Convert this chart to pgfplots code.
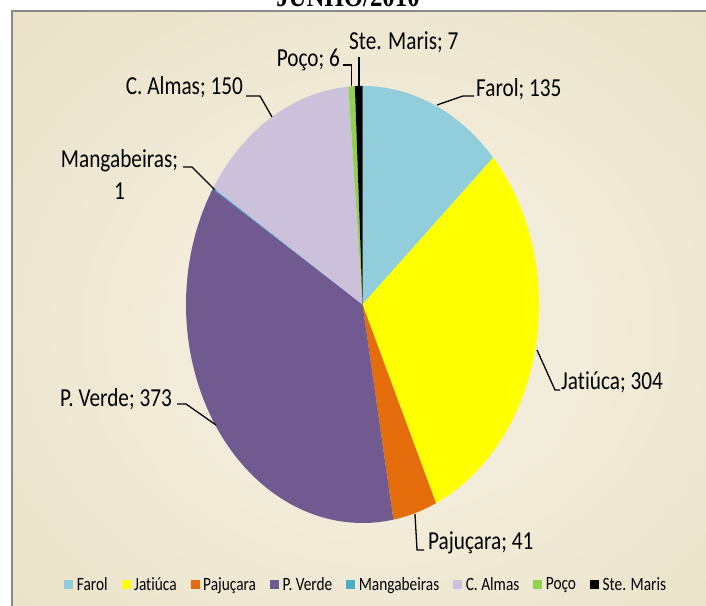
\documentclass[border=0pt]{standalone}
\usepackage{pgfplots}
\pgfplotsset{compat=1.18}
\usepackage{fontspec}
\setmainfont{Carlito}[FakeStretch=0.82, Ligatures=NoCommon]
\newfontfamily\titlefont{Liberation Serif}[FakeStretch=0.83]
\definecolor{cFarol}{HTML}{92CDDC}
\definecolor{cJatiuca}{HTML}{FFFF00}
\definecolor{cPajucara}{HTML}{E46C0A}
\definecolor{cPVerde}{HTML}{705A8F}
\definecolor{cMang}{HTML}{4BACC6}
\definecolor{cCAlmas}{HTML}{CCC1DA}
\definecolor{cPoco}{HTML}{92D050}
\definecolor{cSteMaris}{HTML}{000000}
\definecolor{bgin}{HTML}{F2ECDA}
\definecolor{bgmid}{HTML}{E4DABC}
\definecolor{bgout}{HTML}{D2C39C}
\definecolor{framec}{HTML}{8A8A8A}
\pgfdeclareradialshading{bgshade}{\pgfpoint{0bp}{0bp}}{color(0bp)=(bgin); color(14bp)=(bgin); color(48bp)=(bgmid); color(72bp)=(bgout)}
\newcommand\lab{\fontsize{26}{30}\selectfont}
% slice: #1 cumulative start, #2 value, #3 colour (total 1017)
\newcommand\pieslice[3]{%
  \pgfmathsetmacro\sA{90-(#1)/1017*360}%
  \pgfmathsetmacro\sB{90-(#1+#2)/1017*360}%
  \edef\doslice{\noexpand\addplot[fill=#3,draw=none,domain=\sB:\sA,samples=90,forget plot] ({362.5+176.5*cos(x)},{301.5+218.5*sin(x)}) -- (axis cs:362.5,301.5) -- cycle;}%
  \doslice
}
\begin{document}
\begin{tikzpicture}[x=1bp,y=1bp]
\useasboundingbox (0,0) rectangle (706,606);
\fill[white] (0,0) rectangle (706,606);
\shade[shading=bgshade] (12,-40) rectangle (745,595);
\draw[framec, line width=1.8bp] (12,-40) -- (12,595) -- (745,595);
\node[anchor=base, inner sep=0, font=\titlefont\bfseries\fontsize{30}{36}\selectfont] at (348,599) {JUNHO/2010};
\begin{axis}[
  at={(0,0)}, anchor=south west,
  width=706bp, height=606bp, scale only axis,
  xmin=0, xmax=706, ymin=0, ymax=606,
  hide axis, clip=false,
  legend columns=8,
  legend style={at={(axis cs:367,21.5)}, anchor=center, draw=none, fill=none,
    font=\fontsize{18.8}{20}\selectfont,
    nodes={inner xsep=3.5bp, inner ysep=1bp},
    /tikz/every even column/.append style={column sep=10.5bp}},
  legend image code/.code={\fill[#1] (0bp,-4.5bp) rectangle (9bp,4.5bp);},
]
\pieslice{0}{135}{cFarol}
\pieslice{135}{304}{cJatiuca}
\pieslice{439}{41}{cPajucara}
\pieslice{480}{373}{cPVerde}
\pieslice{853}{1}{cMang}
\pieslice{854}{150}{cCAlmas}
\pieslice{1004}{6}{cPoco}
\pieslice{1010}{7}{cSteMaris}

\addlegendimage{fill=cFarol, draw=none}\addlegendentry{Farol}
\addlegendimage{fill=cJatiuca, draw=none}\addlegendentry{Jatiúca}
\addlegendimage{fill=cPajucara, draw=none}\addlegendentry{Pajuçara}
\addlegendimage{fill=cPVerde, draw=none}\addlegendentry{P. Verde}
\addlegendimage{fill=cMang, draw=none}\addlegendentry{Mangabeiras}
\addlegendimage{fill=cCAlmas, draw=none}\addlegendentry{C. Almas}
\addlegendimage{fill=cPoco, draw=none}\addlegendentry{Poço}
\addlegendimage{fill=cSteMaris, draw=none}\addlegendentry{Ste. Maris}

% leader lines
\draw[black, line width=1.3bp] (axis cs:359,520) -- (axis cs:359,549);
\draw[black, line width=1.3bp] (axis cs:343,541) -- (axis cs:351.5,541) -- (axis cs:351.5,520);
\draw[black, line width=1.3bp] (axis cs:246,510) -- (axis cs:260,510) -- (axis cs:272,489);
\draw[black, line width=1.3bp] (axis cs:183,439) -- (axis cs:192,439) -- (axis cs:215,416);
\draw[black, line width=1.3bp] (axis cs:474,510) -- (axis cs:463,510) -- (axis cs:437,501);
\draw[black, line width=1.3bp] (axis cs:537,256) -- (axis cs:555,216) -- (axis cs:560,216);
\draw[black, line width=1.3bp] (axis cs:177,202) -- (axis cs:186,202) -- (axis cs:216,181);
\draw[black, line width=1.3bp] (axis cs:415,92) -- (axis cs:417,56) -- (axis cs:424,56);

% labels
\node[anchor=base west, inner sep=0, font=\lab] at (axis cs:476,509) {Farol; 135};
\node[anchor=base west, inner sep=0, font=\lab] at (axis cs:561,216) {Jatiúca; 304};
\node[anchor=base west, inner sep=0, font=\lab] at (axis cs:428,56) {Pajuçara; 41};
\node[anchor=base east, inner sep=0, font=\lab] at (axis cs:172,199) {P. Verde; 373};
\node[anchor=base, inner sep=0, font=\lab] at (axis cs:119.5,438) {Mangabeiras;};
\node[anchor=base, inner sep=0, font=\lab] at (axis cs:119.5,406) {1};
\node[anchor=base east, inner sep=0, font=\lab] at (axis cs:243,511) {C. Almas; 150};
\node[anchor=base east, inner sep=0, font=\lab] at (axis cs:340,539) {Poço; 6};
\node[anchor=base west, inner sep=0, font=\lab] at (axis cs:349,556) {Ste. Maris; 7};
\end{axis}
\end{tikzpicture}
\end{document}
